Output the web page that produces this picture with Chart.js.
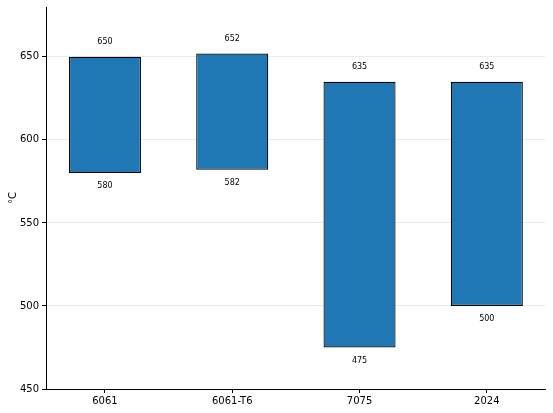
<!DOCTYPE html>
<html>
<head>
<meta charset="utf-8">
<script src="https://cdn.jsdelivr.net/npm/chart.js@4/dist/chart.umd.min.js"></script>
<style>
  html, body { margin: 0; padding: 0; background: #fff; }
  #wrap { width: 553px; height: 413px; }
</style>
</head>
<body>
<div id="wrap"><canvas id="c" width="553" height="413"></canvas></div>
<script>
// Melting range per alloy (solidus -> liquidus), in degrees C.
const ALLOYS = ["6061", "6061-T6", "7075", "2024"];
const SOLIDUS = [580, 582, 475, 500];
const LIQUIDUS = [650, 652, 635, 635];
const Y_MIN = 450, Y_MAX = 680, Y_STEP = 50;
// x range in category units, a little margin either side of the bars
const X_MIN = -0.463, X_MAX = 3.457;

// Print the range ends above and below each bar.
const rangeLabels = {
  id: "rangeLabels",
  afterDatasetsDraw(chart) {
    const ctx = chart.ctx;
    const meta = chart.getDatasetMeta(0);
    ctx.save();
    ctx.font = "8px 'DejaVu Sans'";
    ctx.fillStyle = "#000";
    ctx.textAlign = "center";
    ctx.textBaseline = "middle";
    meta.data.forEach((bar, i) => {
      const top = Math.min(bar.y, bar.base);
      const bottom = Math.max(bar.y, bar.base);
      ctx.fillText(String(LIQUIDUS[i]), bar.x, top - 15);
      ctx.fillText(String(SOLIDUS[i]), bar.x, bottom + 13);
    });
    ctx.restore();
  },
};

new Chart(document.getElementById("c"), {
  type: "bar",
  data: {
    datasets: [{
      data: ALLOYS.map((_, i) => ({ x: i, y: [SOLIDUS[i], LIQUIDUS[i]] })),
      backgroundColor: "#1f77b4",
      borderColor: "#000",
      borderWidth: 1.2,
      borderSkipped: false,
      barPercentage: 0.566,
      categoryPercentage: 1,
    }],
  },
  options: {
    responsive: false, animation: false,
    layout: { padding: { top: 7, right: 8, left: 0, bottom: 0 } },
    plugins: { legend: { display: false }, tooltip: { enabled: false } },
    scales: {
      x: {
        type: "linear", min: X_MIN, max: X_MAX, offset: false,
        grid: { offset: false, drawOnChartArea: false, drawTicks: true, tickLength: 4, tickColor: "#000" },
        border: { color: "#000", width: 1 },
        ticks: { stepSize: 1, includeBounds: false, color: "#000",
                 font: { family: "DejaVu Sans", size: 10 }, padding: 2,
                 maxRotation: 0, callback: v => ALLOYS[v] ?? "" },
        afterFit: s => { s.height = 24; s.paddingLeft = 0; s.paddingRight = 0; },
      },
      y: {
        min: Y_MIN, max: Y_MAX,
        grid: { color: "#ebebeb", tickLength: 4, tickColor: "#000" },
        border: { color: "#000", width: 1 },
        ticks: { stepSize: Y_STEP, includeBounds: false, color: "#000",
                 font: { family: "DejaVu Sans", size: 10 }, padding: 3 },
        title: { display: true, text: "°C", color: "#000",
                 font: { family: "DejaVu Sans", size: 10 }, padding: { top: 7, bottom: 0 } },
        afterFit: s => { s.width = 46; s.paddingTop = 0; s.paddingBottom = 0; },
      },
    },
  },
  plugins: [rangeLabels],
});
</script>
</body>
</html>
